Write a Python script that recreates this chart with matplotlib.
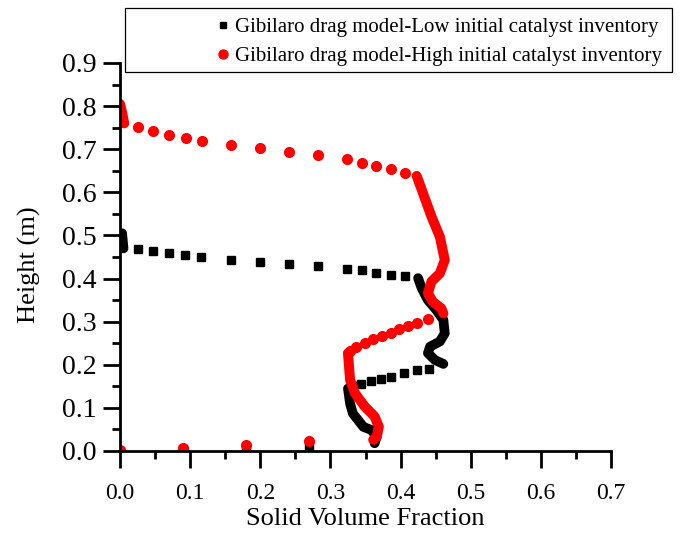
import numpy as np
import matplotlib.pyplot as plt
from matplotlib.patches import Rectangle
from matplotlib.ticker import MultipleLocator

plt.rcParams['font.family'] = 'Liberation Serif'

# Low initial catalyst inventory: sparse points and dense (overlapping) runs
low_top_run = [(0.003, 0.505), (0.004, 0.487), (0.005, 0.470)]
low_upper_x = [0.025, 0.047, 0.070, 0.093, 0.116, 0.158, 0.199, 0.241, 0.282, 0.324, 0.345, 0.365, 0.386, 0.406]
low_upper_y = [0.469, 0.464, 0.459, 0.454, 0.449, 0.443, 0.439, 0.433, 0.428, 0.423, 0.419, 0.414, 0.408, 0.405]
low_mid_run = [(0.425, 0.401), (0.430, 0.378), (0.439, 0.350), (0.451, 0.327), (0.461, 0.304),
               (0.463, 0.273), (0.456, 0.254), (0.442, 0.242), (0.439, 0.227), (0.449, 0.211), (0.461, 0.202)]
low_mid_x = [0.441, 0.423, 0.405, 0.386, 0.372, 0.358, 0.343, 0.332]
low_mid_y = [0.191, 0.187, 0.180, 0.172, 0.167, 0.162, 0.155, 0.151]
low_bottom_run = [(0.325, 0.145), (0.328, 0.110), (0.332, 0.087), (0.347, 0.056),
                  (0.358, 0.049), (0.366, 0.033), (0.363, 0.018)]
low_base_x = [0.0, 0.09, 0.18, 0.27]
low_base_y = [0.0, 0.005, 0.008, 0.012]

# High initial catalyst inventory
high_top_run = [(0.0, 0.805), (0.003, 0.785), (0.006, 0.760)]
high_upper_x = [0.025, 0.047, 0.070, 0.094, 0.117, 0.158, 0.200, 0.241, 0.282, 0.324, 0.345, 0.365, 0.386, 0.406]
high_upper_y = [0.752, 0.742, 0.733, 0.726, 0.718, 0.710, 0.703, 0.694, 0.687, 0.677, 0.669, 0.662, 0.654, 0.644]
high_mid_run = [(0.423, 0.638), (0.432, 0.598), (0.444, 0.544), (0.456, 0.497), (0.463, 0.443),
                (0.456, 0.412), (0.444, 0.393), (0.439, 0.366), (0.446, 0.346), (0.458, 0.331), (0.461, 0.319)]
high_mid_x = [0.439, 0.424, 0.411, 0.398, 0.386, 0.373, 0.361, 0.349, 0.337, 0.328]
high_mid_y = [0.306, 0.298, 0.290, 0.282, 0.274, 0.267, 0.259, 0.251, 0.242, 0.233]
high_bottom_run = [(0.325, 0.227), (0.328, 0.165), (0.335, 0.134), (0.349, 0.103),
                   (0.363, 0.080), (0.369, 0.056), (0.366, 0.033), (0.361, 0.026)]
high_base_x = [0.0, 0.09, 0.18, 0.27]
high_base_y = [0.002, 0.008, 0.015, 0.024]

fig = plt.figure(figsize=(6.82, 5.34), dpi=100)
ax = fig.add_axes([120 / 682, 1 - 451 / 534, 491 / 682, 388 / 534])


def draw_series(runs, xs_list, ys_list, color, marker, ms, lw):
    for run in runs:
        rx, ry = zip(*run)
        ax.plot(rx, ry, color=color, lw=lw, solid_capstyle='round', solid_joinstyle='round')
    for xs, ys in zip(xs_list, ys_list):
        ax.plot(xs, ys, ls='none', marker=marker, ms=ms, color=color, mec=color)


draw_series([low_top_run, low_mid_run, low_bottom_run],
            [low_upper_x, low_mid_x, low_base_x], [low_upper_y, low_mid_y, low_base_y],
            'black', 's', 5.8, 7.0)
draw_series([high_top_run, high_mid_run, high_bottom_run],
            [high_upper_x, high_mid_x, high_base_x], [high_upper_y, high_mid_y, high_base_y],
            'red', 'o', 7.0, 7.2)

ax.set_xlim(0, 0.7)
ax.set_ylim(0, 0.9)
ax.xaxis.set_major_locator(MultipleLocator(0.1))
ax.xaxis.set_minor_locator(MultipleLocator(0.05))
ax.yaxis.set_major_locator(MultipleLocator(0.1))
ax.yaxis.set_minor_locator(MultipleLocator(0.05))
ax.xaxis.set_major_formatter(plt.FormatStrFormatter('%.1f'))
ax.yaxis.set_major_formatter(plt.FormatStrFormatter('%.1f'))

for side in ['top', 'right']:
    ax.spines[side].set_visible(False)
for side in ['left', 'bottom']:
    ax.spines[side].set_linewidth(2.0)

ax.tick_params(which='major', direction='out', length=12, width=2.0)
ax.tick_params(which='minor', direction='out', length=6, width=2.0)
ax.tick_params(axis='x', which='major', labelsize=17, pad=11)
ax.tick_params(axis='y', which='major', labelsize=20, pad=5)

ax.set_xlabel('Solid Volume Fraction', fontsize=19, labelpad=3)
ax.set_ylabel('Height (m)', fontsize=19)
ax.yaxis.set_label_coords(-0.16, 0.48)

# Legend sits in its own box above the plot
fig.patches.append(Rectangle((125 / 682, 1 - 72 / 534), 547 / 682, 64 / 534,
                             transform=fig.transFigure, facecolor='white',
                             edgecolor='black', lw=0.9, zorder=3))
handles = [
    plt.Line2D([], [], ls='none', marker='s', ms=5, color='black'),
    plt.Line2D([], [], ls='none', marker='o', ms=6.5, color='red'),
]
labels = ['Gibilaro drag model-Low initial catalyst inventory',
          'Gibilaro drag model-High initial catalyst inventory']
leg = fig.legend(handles, labels, loc='center right', bbox_to_anchor=(677 / 682, 1 - 42 / 534),
                 frameon=False, fontsize=15, handlelength=0.6, handletextpad=0.3,
                 labelspacing=0.45, borderpad=0.2)
leg.set_zorder(4)

fig.savefig('out.png', dpi=100)
